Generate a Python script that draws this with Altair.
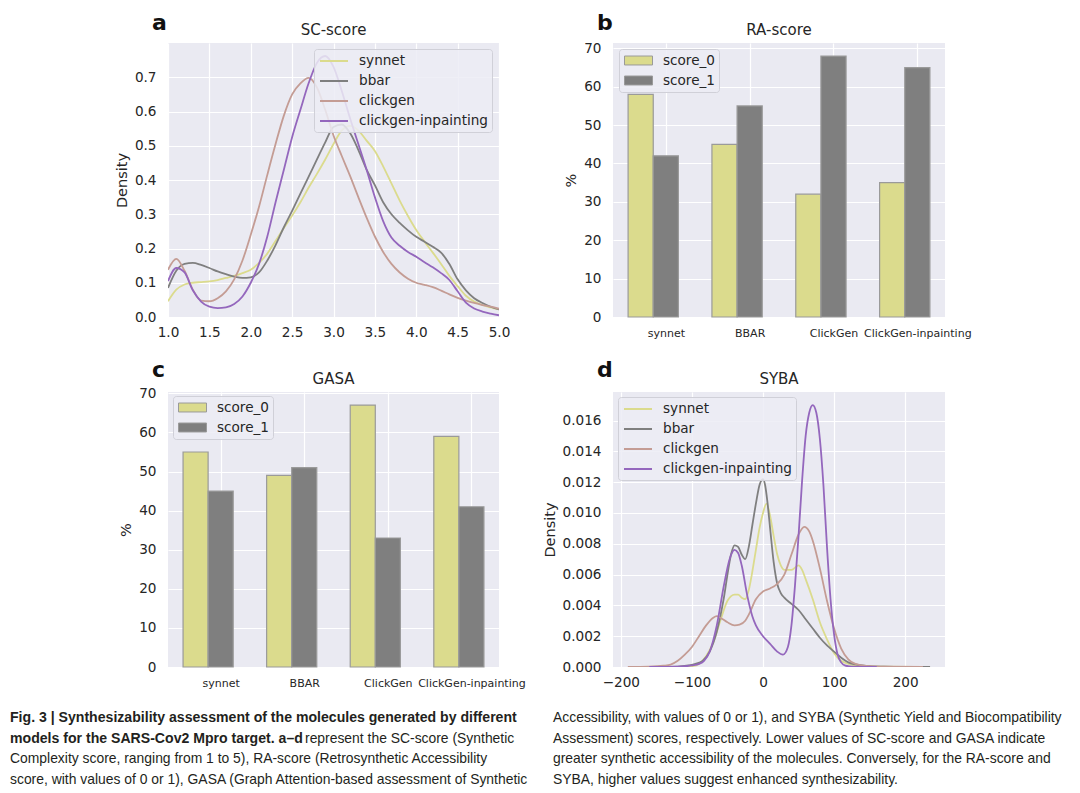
import altair as alt
import pandas as pd

FONT = "DejaVu Sans"
CAP_FONT = "Liberation Sans"
INK = "#262626"
PANEL_BG = "#eaeaf2"
LEGEND_BG = "rgba(236,236,244,0.85)"
LEGEND_EDGE = "#d0d0d8"

# ---------------- data ----------------
models = ["synnet", "bbar", "clickgen", "clickgen-inpainting"]
model_colors = ["#dbdb8d", "#7f7f7f", "#c49c94", "#9467bd"]

# SC-score densities (every 0.1)
sc_grid = [1.0, 1.1, 1.2, 1.3, 1.4, 1.5, 1.6, 1.7, 1.8, 1.9,
           2.0, 2.1, 2.2, 2.3, 2.4, 2.5, 2.6, 2.7, 2.8, 2.9,
           3.0, 3.1, 3.2, 3.3, 3.4, 3.5, 3.6, 3.7, 3.8, 3.9,
           4.0, 4.1, 4.2, 4.3, 4.4, 4.5, 4.6, 4.7, 4.8, 4.9, 5.0]
sc_synnet = [0.046, 0.080, 0.095, 0.100, 0.102, 0.104, 0.108, 0.114, 0.120, 0.128,
             0.138, 0.158, 0.185, 0.222, 0.260, 0.296, 0.335, 0.378, 0.418, 0.460,
             0.505, 0.545, 0.558, 0.545, 0.515, 0.485, 0.440, 0.390, 0.340, 0.295,
             0.254, 0.220, 0.188, 0.155, 0.120, 0.090, 0.062, 0.045, 0.035, 0.028, 0.022]
sc_bbar = [0.085, 0.135, 0.155, 0.158, 0.152, 0.143, 0.133, 0.125, 0.118, 0.114,
           0.116, 0.130, 0.165, 0.210, 0.262, 0.310, 0.360, 0.410, 0.460, 0.510,
           0.555, 0.562, 0.537, 0.488, 0.430, 0.385, 0.335, 0.300, 0.275, 0.253,
           0.234, 0.220, 0.205, 0.188, 0.155, 0.110, 0.078, 0.055, 0.041, 0.030, 0.022]
sc_clickgen = [0.138, 0.170, 0.135, 0.080, 0.048, 0.046, 0.055, 0.075, 0.110, 0.165,
               0.240, 0.322, 0.415, 0.505, 0.588, 0.650, 0.682, 0.698, 0.670, 0.605,
               0.530, 0.470, 0.412, 0.350, 0.290, 0.235, 0.190, 0.155, 0.130, 0.112,
               0.100, 0.094, 0.087, 0.077, 0.066, 0.056, 0.048, 0.041, 0.035, 0.030, 0.024]
sc_inpainting = [0.105, 0.143, 0.130, 0.078, 0.045, 0.030, 0.026, 0.028, 0.038, 0.060,
                 0.100, 0.155, 0.235, 0.335, 0.430, 0.525, 0.605, 0.683, 0.742, 0.762,
                 0.730, 0.660, 0.580, 0.505, 0.430, 0.350, 0.280, 0.232, 0.208, 0.190,
                 0.176, 0.160, 0.145, 0.128, 0.108, 0.075, 0.042, 0.025, 0.016, 0.010, 0.005]

# SYBA densities
syba_synnet_x = [-170, -130, -110, -100, -90, -80, -70, -60, -50, -40,
                 -35, -30, -25, -20, -15, -10, -5, 0, 5, 10,
                 15, 20, 25, 30, 40, 50, 55, 60, 70, 80,
                 90, 100, 110, 120, 135, 160, 215]
syba_synnet_y = [0, 0, 0.00002, 0.00005, 0.0002, 0.0007, 0.0016, 0.0030, 0.0043, 0.0047,
                 0.0047, 0.0045, 0.0044, 0.0050, 0.0062, 0.0076, 0.0090, 0.0100, 0.0106, 0.0098,
                 0.0085, 0.0073, 0.0066, 0.0063, 0.0063, 0.0066, 0.0063, 0.0057, 0.0044, 0.0029,
                 0.0018, 0.0009, 0.0004, 0.0002, 0.00007, 0.00002, 0]
syba_bbar_x = [-190, -150, -120, -105, -95, -85, -75, -65, -60, -55,
               -50, -45, -40, -35, -30, -25, -20, -15, -10, -5,
               0, 3, 6, 10, 15, 20, 25, 30, 40, 50,
               60, 70, 80, 90, 100, 110, 120, 130, 145, 170,
               200, 235]
syba_bbar_y = [0, 0, 0.00002, 0.0001, 0.0002, 0.0004, 0.0010, 0.0023, 0.0033, 0.0045,
               0.0060, 0.0073, 0.0079, 0.0078, 0.0073, 0.0070, 0.0078, 0.0092, 0.0106, 0.0118,
               0.0122, 0.0118, 0.0108, 0.0090, 0.0068, 0.0054, 0.0048, 0.0045, 0.0041, 0.0037,
               0.0031, 0.0025, 0.0019, 0.0014, 0.0010, 0.0006, 0.0003, 0.00017, 0.00007, 0.00002,
               0, 0]
syba_clickgen_x = [-190, -160, -140, -130, -120, -110, -100, -90, -80, -70,
                   -65, -60, -50, -40, -33, -25, -20, -10, 0, 10,
                   20, 30, 40, 50, 58, 65, 70, 80, 90, 100,
                   110, 120, 130, 145, 170, 225]
syba_clickgen_y = [0, 0.00002, 0.00008, 0.00015, 0.0004, 0.0008, 0.0013, 0.0020, 0.0027, 0.0032,
                   0.0033, 0.0032, 0.0029, 0.0027, 0.00275, 0.0030, 0.0034, 0.0044, 0.0049, 0.0051,
                   0.0054, 0.0060, 0.0073, 0.0086, 0.0091, 0.0088, 0.0082, 0.0064, 0.0043, 0.0025,
                   0.0012, 0.0005, 0.0002, 0.00007, 0.00002, 0]
syba_inpainting_x = [-160, -120, -100, -90, -83, -75, -65, -55, -47, -40,
                     -35, -30, -22, -15, -10, 0, 10, 20, 28, 35,
                     40, 45, 50, 55, 60, 65, 70, 75, 80, 85,
                     90, 95, 100, 105, 110, 115, 125, 160]
syba_inpainting_y = [0, 0.00002, 0.0001, 0.0002, 0.0004, 0.0010, 0.0027, 0.0053, 0.0070, 0.0076,
                     0.0074, 0.0066, 0.0046, 0.0033, 0.0027, 0.0020, 0.0015, 0.0010, 0.0008, 0.0013,
                     0.0027, 0.0053, 0.0085, 0.0121, 0.0150, 0.0165, 0.0170, 0.0165, 0.0148, 0.0118,
                     0.0078, 0.0044, 0.0021, 0.0008, 0.0003, 0.0001, 0.00002, 0]

# bar panels
bar_categories = ["synnet", "BBAR", "ClickGen", "ClickGen-inpainting"]
score_names = ["score_0", "score_1"]
score_colors = ["#dbdb8d", "#7f7f7f"]
ra_score_0 = [58, 45, 32, 35]
ra_score_1 = [42, 55, 68, 65]
gasa_score_0 = [55, 49, 67, 59]
gasa_score_1 = [45, 51, 33, 41]

# caption
caption_segments = [
    ("left", 0, "bold", "Fig. 3 | Synthesizability assessment of the molecules generated by different"),
    ("left", 1, "bold", "models for the SARS-Cov2 Mpro target. a\u2013d"),
    ("left", 1, "cont", "represent the SC-score (Synthetic"),
    ("left", 2, "normal", "Complexity score, ranging from 1 to 5), RA-score (Retrosynthetic Accessibility"),
    ("left", 3, "normal", "score, with values of 0 or 1), GASA (Graph Attention-based assessment of Synthetic"),
    ("right", 0, "normal", "Accessibility, with values of 0 or 1), and SYBA (Synthetic Yield and Biocompatibility"),
    ("right", 1, "normal", "Assessment) scores, respectively. Lower values of SC-score and GASA indicate"),
    ("right", 2, "normal", "greater synthetic accessibility of the molecules. Conversely, for the RA-score and"),
    ("right", 3, "normal", "SYBA, higher values suggest enhanced synthesizability."),
]

# ---------------- layout constants ----------------
W1, W2 = 331, 332
H1, H2 = 274, 275
COL_GAP, ROW_GAP = 114, 75
BAR_W = 0.3


def decorations(letter, title, width, letter_dy):
    """Panel letter and panel title drawn as text marks above the plot area."""
    df = pd.DataFrame({"t": [letter], "title": [title]})
    let = alt.Chart(df).mark_text(
        font=FONT, fontSize=22, fontWeight="bold", align="left",
        baseline="alphabetic", color="#111111"
    ).encode(text="t:N", x=alt.value(-16), y=alt.value(letter_dy))
    tit = alt.Chart(df).mark_text(
        font=FONT, fontSize=15, align="center", baseline="alphabetic", color=INK
    ).encode(text="title:N", x=alt.value(width / 2), y=alt.value(-8))
    return [let, tit]


def line_legend(xy):
    return alt.Legend(
        title=None, orient="none", legendX=xy[0], legendY=xy[1],
        symbolType="M-2,0H2", symbolSize=196, symbolStrokeWidth=2,
        symbolOffset=8, labelOffset=17, padding=4, rowPadding=5,
        fillColor=LEGEND_BG, strokeColor=LEGEND_EDGE, cornerRadius=3,
        labelFont=FONT, labelFontSize=13.6, labelColor=INK,
    )


def density_panel(series, title, letter, x_dom, y_dom, x_ticks, y_ticks,
                  x_fmt, y_fmt, legend_xy, width, height, letter_dy):
    frames = [pd.DataFrame({"model": name, "x": xs, "density": ys}) for name, xs, ys in series]
    df = pd.concat(frames, ignore_index=True)
    lines = alt.Chart(df).mark_line(strokeWidth=1.8, interpolate="monotone", clip=True).encode(
        x=alt.X("x:Q", scale=alt.Scale(domain=x_dom, nice=False, zero=False),
                axis=alt.Axis(values=x_ticks, format=x_fmt, title=None,
                              labelFlush=False, labelPadding=8)),
        y=alt.Y("density:Q", scale=alt.Scale(domain=y_dom, nice=False, zero=False),
                axis=alt.Axis(values=y_ticks, format=y_fmt, title="Density",
                              labelPadding=12, titlePadding=5)),
        color=alt.Color("model:N", scale=alt.Scale(domain=models, range=model_colors),
                        legend=line_legend(legend_xy)),
    )
    return alt.layer(lines, *decorations(letter, title, width, letter_dy)).properties(
        width=width, height=height)


def bar_panel(s0, s1, title, letter, y_max, legend_xy, width, height, letter_dy):
    rows = []
    for i, cat in enumerate(bar_categories):
        rows.append({"series": score_names[0], "x0": i - 1.5 * BAR_W, "x1": i - 0.5 * BAR_W, "v": s0[i]})
        rows.append({"series": score_names[1], "x0": i - 0.5 * BAR_W, "x1": i + 0.5 * BAR_W, "v": s1[i]})
    df = pd.DataFrame(rows)
    n = len(bar_categories)
    label_expr = "[" + ",".join("'%s'" % c for c in bar_categories) + "][datum.value]"
    legend = alt.Legend(
        title=None, orient="none", legendX=legend_xy[0], legendY=legend_xy[1],
        symbolType="M-2,-0.64H2V0.64H-2Z", symbolSize=196, symbolStrokeWidth=1,
        symbolStrokeColor="#9a9a9a", symbolOffset=8, labelOffset=17,
        padding=4, rowPadding=5,
        fillColor=LEGEND_BG, strokeColor=LEGEND_EDGE, cornerRadius=3,
        labelFont=FONT, labelFontSize=13.6, labelColor=INK,
    )
    bars = alt.Chart(df).mark_bar(stroke="#9a9a9a", strokeWidth=1.2).encode(
        x=alt.X("x0:Q", scale=alt.Scale(domain=[-1.5 * BAR_W - 0.18, n - 1 + 0.5 * BAR_W + 0.18],
                                        nice=False, zero=False),
                axis=alt.Axis(values=list(range(n)), labelExpr=label_expr, title=None,
                              labelFlush=False, labelFontSize=11, labelPadding=10,
                              labelOverlap=False)),
        x2="x1:Q",
        y=alt.Y("v:Q", stack=None, scale=alt.Scale(domain=[0, y_max], nice=False),
                axis=alt.Axis(values=list(range(0, 71, 10)), format="d", title="%",
                              labelPadding=12, titlePadding=5)),
        y2=alt.datum(0),
        color=alt.Color("series:N", scale=alt.Scale(domain=score_names, range=score_colors),
                        legend=legend),
    )
    return alt.layer(bars, *decorations(letter, title, width, letter_dy)).properties(
        width=width, height=height)


panel_a = density_panel(
    [(models[0], sc_grid, sc_synnet), (models[1], sc_grid, sc_bbar),
     (models[2], sc_grid, sc_clickgen), (models[3], sc_grid, sc_inpainting)],
    "SC-score", "a", [1.0, 5.0], [0, 0.8],
    [1.0, 1.5, 2.0, 2.5, 3.0, 3.5, 4.0, 4.5, 5.0],
    [0.0, 0.1, 0.2, 0.3, 0.4, 0.5, 0.6, 0.7], ".1f", ".1f", (146, 6), W1, H1, -13)

panel_b = bar_panel(ra_score_0, ra_score_1, "RA-score", "b", 71.4, (6, 6), W2, H1, -13)
panel_c = bar_panel(gasa_score_0, gasa_score_1, "GASA", "c", 70.35, (5, 4), W1, H2, -15)

panel_d = density_panel(
    [(models[0], syba_synnet_x, syba_synnet_y), (models[1], syba_bbar_x, syba_bbar_y),
     (models[2], syba_clickgen_x, syba_clickgen_y), (models[3], syba_inpainting_x, syba_inpainting_y)],
    "SYBA", "d", [-211, 256], [0, 0.01785],
    [-200, -100, 0, 100, 200],
    [0.0, 0.002, 0.004, 0.006, 0.008, 0.010, 0.012, 0.014, 0.016], "d", ".3f", (5, 5), W2, H2, -15)

# caption rows (positions relative to the first column's plot origin)
CAP_X = {"left": -158, "right": 385}
CAP_CONT_X = 295
CAP_Y0 = -20
CAP_DY = 20.6
cap_rows = []
for col, line, weight, text in caption_segments:
    x = CAP_X[col] + (CAP_CONT_X if weight == "cont" else 0)
    cap_rows.append({"x": x, "y": CAP_Y0 + line * CAP_DY, "t": text,
                     "w": "bold" if weight == "bold" else "normal"})
cap_df = pd.DataFrame(cap_rows)


def cap_layer(weight, size):
    return alt.Chart(cap_df).transform_filter(alt.datum.w == weight).mark_text(
        font=CAP_FONT, fontSize=size, fontWeight=weight, align="left",
        baseline="alphabetic", color="#231f20"
    ).encode(x=alt.X("x:Q", scale=None, axis=None),
             y=alt.Y("y:Q", scale=None, axis=None), text="t:N")


caption = alt.layer(cap_layer("bold", 14.1), cap_layer("normal", 13.9)).properties(
    width=1, height=1, view=alt.ViewBackground(fill="transparent", strokeWidth=0))

chart = alt.concat(
    panel_a, panel_b, panel_c, panel_d, caption,
    columns=2, spacing={"row": ROW_GAP, "column": COL_GAP},
    bounds="flush", align="each",
).resolve_scale(
    color="independent"
).resolve_legend(
    color="independent"
).configure(
    padding={"left": 2, "top": 4, "right": 0, "bottom": 0}, background="white"
).configure_view(
    fill=PANEL_BG, strokeWidth=0
).configure_axis(
    domain=False, ticks=False, gridColor="white", gridWidth=1.2,
    labelFont=FONT, labelFontSize=13.6, labelColor=INK,
    titleFont=FONT, titleFontSize=14.5, titleFontWeight="normal", titleColor=INK,
)

chart.save("out.html", embed_options={"renderer": "svg", "actions": False})
